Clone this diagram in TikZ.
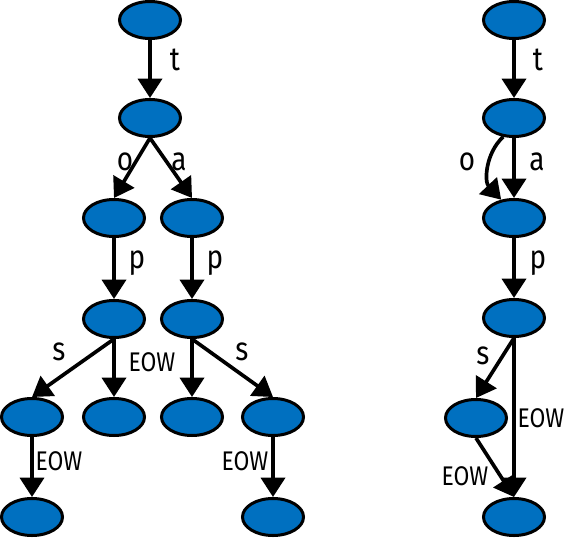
\documentclass[tikz,border=0pt]{standalone}
\usepackage{fontspec}
\setmainfont{Fira Sans}[FakeStretch=0.85]
\usetikzlibrary{arrows.meta,shapes.geometric}
\definecolor{trieblue}{RGB}{0,112,192}

\begin{document}
\begin{tikzpicture}
    [
        x=0.3mm, y=-0.3mm,
        state/.style = {draw, shape=ellipse, fill=trieblue, minimum width=1.83cm, minimum height=1.11cm, line width=0.09cm},
        edge/.style = {-{Triangle[length=0.58cm, width=0.72cm]}, line width=0.11cm},
        letter/.style = {font=\fontsize{28}{28}\selectfont, inner sep=0pt},
        eow/.style = {font=\fontsize{23}{23}\selectfont, inner sep=0pt},
    ]
    \useasboundingbox (0,0) rectangle (566,540);

    % trie
    \node[state] (l0) at (150,20) {};
    \node[state] (l1) at (150,118) {};
    \node[state] (lo) at (114,218) {};
    \node[state] (la) at (192,218) {};
    \node[state] (lop) at (114,319) {};
    \node[state] (lap) at (192,319) {};
    \node[state] (lops) at (32,417) {};
    \node[state] (lope) at (114,417) {};
    \node[state] (lape) at (192,417) {};
    \node[state] (laps) at (273,417) {};
    \node[state] (lopse) at (32,517) {};
    \node[state] (lapse) at (273,517) {};

    % dawg
    \node[state] (r0) at (514,20) {};
    \node[state] (r1) at (514,118) {};
    \node[state] (r2) at (514,218) {};
    \node[state] (r3) at (514,318) {};
    \node[state] (r4) at (476,418) {};
    \node[state] (r5) at (514,517) {};

    \node[letter] (tl) at (175,60) {t};
    \node[letter] (ol) at (125,162) {o};
    \node[letter] (al) at (179,162) {a};
    \node[letter] (pl0) at (137,263) {p};
    \node[letter] (pl1) at (215,263) {p};
    \node[letter] (sl0) at (59,352) {s};
    \node[letter] (sl1) at (242,352) {s};
    \node[eow] (el0) at (152,362) {EOW};
    \node[eow] (el1) at (59,461) {EOW};
    \node[eow] (el2) at (245,461) {EOW};

    \node[letter] (tr) at (538,60) {t};
    \node[letter] (or) at (467,162) {o};
    \node[letter] (ar) at (537,162) {a};
    \node[letter] (pr) at (538,263) {p};
    \node[letter] (sr) at (483,356) {s};
    \node[eow] (er0) at (541,418) {EOW};
    \node[eow] (er1) at (465,476) {EOW};

    \draw[edge] (l0) -- (l1);
    \draw[edge] (l1.south) -- (lo.north);
    \draw[edge] (l1.south) -- (la.north);
    \draw[edge] (lo) -- (lop);
    \draw[edge] (la) -- (lap);
    \draw[edge] (lop.south) -- (lops.north);
    \draw[edge] (lop) -- (lope);
    \draw[edge] (lap) -- (lape);
    \draw[edge] (lap.south) -- (laps.north);
    \draw[edge] (lops) -- (lopse);
    \draw[edge] (laps) -- (lapse);

    \draw[edge] (r0) -- (r1);
    \draw[edge] (r1.240) to[bend right=45] (r2.125);
    \draw[edge] (r1) -- (r2);
    \draw[edge] (r2) -- (r3);
    \draw[edge] (r3.south) -- (r4.north);
    \draw[edge] (r3) -- (r5);
    \draw[edge] (r4.south) -- (r5.north);
\end{tikzpicture}
\end{document}
